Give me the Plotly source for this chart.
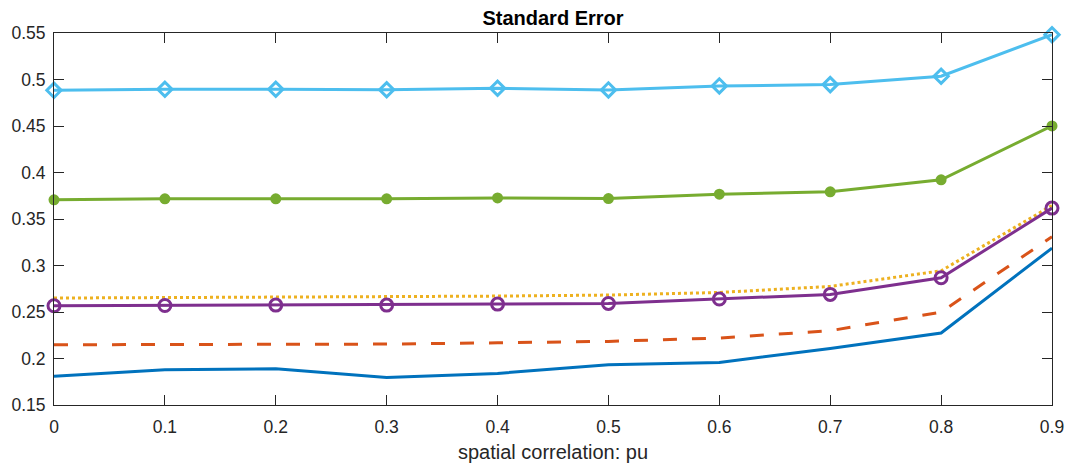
import plotly.graph_objects as go

# Spatial correlation values on the x axis
rho = [0.0, 0.1, 0.2, 0.3, 0.4, 0.5, 0.6, 0.7, 0.8, 0.9]

# Standard error for each estimator
se_blue = [0.1808, 0.1879, 0.1890, 0.1797, 0.1840, 0.1933, 0.1958, 0.2108, 0.2274, 0.3187]
se_orange = [0.2148, 0.2148, 0.2152, 0.2155, 0.2169, 0.2184, 0.2220, 0.2299, 0.2499, 0.3310]
se_yellow = [0.2650, 0.2656, 0.2656, 0.2660, 0.2671, 0.2682, 0.2710, 0.2775, 0.2943, 0.3645]
se_purple = [0.2567, 0.2570, 0.2574, 0.2574, 0.2585, 0.2592, 0.2639, 0.2689, 0.2868, 0.3617]
se_green = [0.3706, 0.3717, 0.3717, 0.3717, 0.3727, 0.3720, 0.3767, 0.3792, 0.3921, 0.4501]
se_cyan = [0.4884, 0.4895, 0.4895, 0.4890, 0.4906, 0.4888, 0.4931, 0.4945, 0.5035, 0.5482]

x_ticks = [0, 0.1, 0.2, 0.3, 0.4, 0.5, 0.6, 0.7, 0.8, 0.9]
x_tick_text = ["0", "0.1", "0.2", "0.3", "0.4", "0.5", "0.6", "0.7", "0.8", "0.9"]
y_ticks = [0.15, 0.2, 0.25, 0.3, 0.35, 0.4, 0.45, 0.5, 0.55]
y_tick_text = ["0.15", "0.2", "0.25", "0.3", "0.35", "0.4", "0.45", "0.5", "0.55"]

FONT = "Liberation Sans, Arial, Helvetica, sans-serif"
AXIS_COLOR = "#262626"
LW = 3

fig = go.Figure()

fig.add_trace(go.Scatter(x=rho, y=se_blue, mode="lines",
                         line=dict(color="#0072BD", width=LW)))
fig.add_trace(go.Scatter(x=rho, y=se_orange, mode="lines",
                         line=dict(color="#D95319", width=LW, dash="14px,15px")))
fig.add_trace(go.Scatter(x=rho, y=se_yellow, mode="lines",
                         line=dict(color="#EDB120", width=LW, dash="3px,3px")))
fig.add_trace(go.Scatter(x=rho, y=se_purple, mode="lines+markers",
                         line=dict(color="#7E2F8E", width=LW),
                         marker=dict(symbol="circle-open", size=12, color="#7E2F8E",
                                     line=dict(width=3, color="#7E2F8E"))))
fig.add_trace(go.Scatter(x=rho, y=se_green, mode="lines+markers",
                         line=dict(color="#77AC30", width=LW),
                         marker=dict(symbol="circle", size=11, color="#77AC30")))
fig.add_trace(go.Scatter(x=rho, y=se_cyan, mode="lines+markers",
                         line=dict(color="#4DBEEE", width=LW),
                         marker=dict(symbol="diamond-open", size=11, color="#4DBEEE",
                                     line=dict(width=3, color="#4DBEEE"))))

for tr in fig.data:
    tr.cliponaxis = False

axis_common = dict(
    showline=True, linecolor=AXIS_COLOR, linewidth=1, mirror="ticks",
    ticks="inside", ticklen=10, tickwidth=1, tickcolor=AXIS_COLOR,
    showgrid=False, zeroline=False, automargin=False,
    tickfont=dict(family=FONT, size=17.5, color=AXIS_COLOR),
)

fig.update_xaxes(range=[0, 0.9], tickvals=x_ticks, ticktext=x_tick_text,
                 ticklabelstandoff=6,
                 title=dict(text="spatial correlation: pu",
                            font=dict(family=FONT, size=20, color=AXIS_COLOR),
                            standoff=8),
                 **axis_common)
fig.update_yaxes(range=[0.15, 0.55], tickvals=y_ticks, ticktext=y_tick_text,
                 ticklabelstandoff=4,
                 **axis_common)

fig.update_layout(
    width=1072, height=468,
    margin=dict(l=54, r=20, t=33, b=63),
    paper_bgcolor="white", plot_bgcolor="white",
    showlegend=False,
    title=dict(text="<b>Standard Error</b>", x=0.5, xref="paper",
               y=1 - 18 / 468, yref="container", yanchor="middle",
               font=dict(family=FONT, size=20, color="black")),
)

fig.write_html("out.html")
